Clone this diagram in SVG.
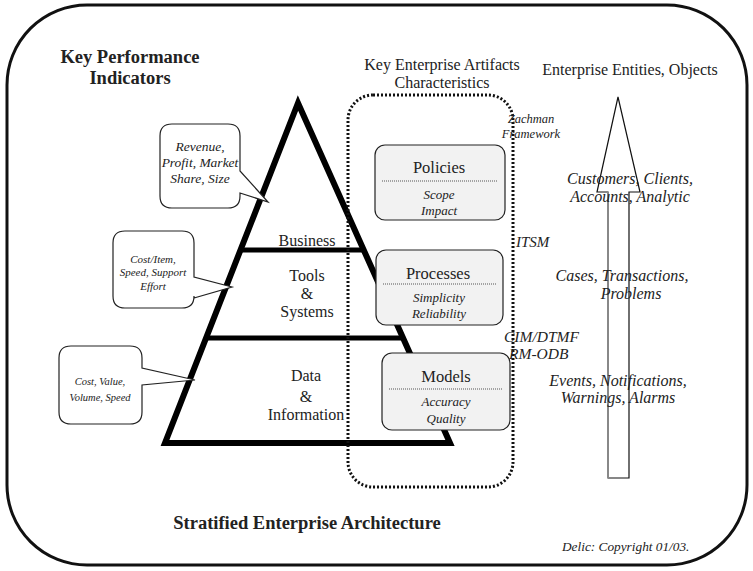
<svg xmlns="http://www.w3.org/2000/svg" width="753" height="571" viewBox="0 0 753 571" font-family="'Liberation Serif', 'DejaVu Serif', serif">
<style>
text{font-family:'Liberation Serif','DejaVu Serif',serif;fill:#222}
.c{text-anchor:middle}
.i{font-style:italic}
.b{font-weight:bold}
.callout{fill:#fff;stroke:#222;stroke-width:1.2}
.kbox{fill:#f2f2f2;stroke:#222;stroke-width:1.2}
.dot{stroke:#555;stroke-width:1;stroke-dasharray:1 1}
</style>
<rect id="frame" x="7" y="5" width="740" height="560" rx="80" ry="80" fill="#fff" stroke="#111" stroke-width="3"/>
<g id="pyramid">
<polygon points="298,103 165,443 450,443" fill="none" stroke="#000" stroke-width="6" stroke-linejoin="miter"/>
<line x1="240" y1="250" x2="364" y2="250" stroke="#000" stroke-width="5"/>
<line x1="206" y1="338" x2="403" y2="338" stroke="#000" stroke-width="5"/>
<text class="c" x="307" y="246" font-size="16">Business</text>
<text class="c" x="307" y="281" font-size="16">Tools</text>
<text class="c" x="307" y="299" font-size="16">&amp;</text>
<text class="c" x="307" y="317" font-size="16">Systems</text>
<text class="c" x="306" y="381" font-size="16">Data</text>
<text class="c" x="306" y="402" font-size="16">&amp;</text>
<text class="c" x="306" y="420" font-size="16">Information</text>
</g>
<g id="kpi-title">
<text class="c b" x="130" y="63" font-size="18.5">Key Performance</text>
<text class="c b" x="130" y="84" font-size="18.5">Indicators</text>
</g>
<g id="callout-business">
<path class="callout" d="M172,124 H228 Q240,124 240,136 V171 L268,202 L240,193 V196 Q240,208 228,208 H172 Q160,208 160,196 V136 Q160,124 172,124 Z"/>
<text class="c i" x="200" y="151" font-size="13.5">Revenue,</text>
<text class="c i" x="200" y="167" font-size="13.5">Profit, Market</text>
<text class="c i" x="200" y="183" font-size="13.5">Share, Size</text>
</g>
<g id="callout-tools">
<path class="callout" d="M125,231 H182 Q194,231 194,243 V277 L232,287 L194,298 V296 Q194,308 182,308 H125 Q113,308 113,296 V243 Q113,231 125,231 Z"/>
<text class="c i" x="153" y="263" font-size="11">Cost/Item,</text>
<text class="c i" x="153" y="276" font-size="11">Speed, Support</text>
<text class="c i" x="153" y="290" font-size="11">Effort</text>
</g>
<g id="callout-data">
<path class="callout" d="M71,346 H130 Q142,346 142,358 V368 L195,380 L142,385 V412 Q142,424 130,424 H71 Q59,424 59,412 V358 Q59,346 71,346 Z"/>
<text class="c i" x="100" y="385" font-size="10.5">Cost, Value,</text>
<text class="c i" x="100" y="401" font-size="10.5">Volume, Speed</text>
</g>
<g id="artifacts">
<text class="c" x="442" y="70" font-size="16">Key Enterprise Artifacts</text>
<text class="c" x="442" y="88" font-size="16">Characteristics</text>
<rect x="348" y="95" width="165" height="392" rx="25" ry="25" fill="none" stroke="#111" stroke-width="3" stroke-dasharray="2 2"/>
</g>
<g id="policies">
<rect class="kbox" x="375" y="145" width="130" height="75" rx="10" ry="10"/>
<text class="c" x="439" y="173" font-size="16.5">Policies</text>
<line class="dot" x1="382" y1="181" x2="497" y2="181"/>
<text class="c i" x="439" y="199" font-size="13">Scope</text>
<text class="c i" x="439" y="215" font-size="13">Impact</text>
</g>
<g id="processes">
<rect class="kbox" x="376" y="250" width="127" height="75" rx="10" ry="10"/>
<text class="c" x="438" y="279" font-size="16.5">Processes</text>
<line class="dot" x1="383" y1="284" x2="496" y2="284"/>
<text class="c i" x="439" y="302" font-size="13">Simplicity</text>
<text class="c i" x="439" y="318" font-size="13">Reliability</text>
</g>
<g id="models">
<rect class="kbox" x="382" y="353" width="128" height="77" rx="10" ry="10"/>
<text class="c" x="446" y="382" font-size="16.5">Models</text>
<line class="dot" x1="389" y1="389" x2="503" y2="389"/>
<text class="c i" x="446" y="406" font-size="13">Accuracy</text>
<text class="c i" x="446" y="423" font-size="13">Quality</text>
</g>
<g id="standards">
<text class="c i" x="531" y="123" font-size="12.5">Zachman</text>
<text class="c i" x="531" y="138" font-size="12.5">Framework</text>
<text class="i" x="516" y="247" font-size="15">ITSM</text>
<text class="i" x="504" y="342" font-size="15.5">CIM/DTMF</text>
<text class="i" x="509" y="359" font-size="15.5">RM-ODB</text>
</g>
<g id="entities">
<text class="c" x="630" y="75" font-size="16">Enterprise Entities, Objects</text>
<polygon points="618,97 640,192 629,192 629,478 608,478 608,192 597,192" fill="#fff" stroke="#111" stroke-width="1.2"/>
<line x1="608" y1="192" x2="608" y2="478" stroke="#888" stroke-width="2"/>
<text class="c i" x="630" y="184" font-size="16">Customers, Clients,</text>
<text class="c i" x="630" y="202" font-size="16">Accounts, Analytic</text>
<text class="c i" x="622" y="281" font-size="16">Cases, Transactions,</text>
<text class="c i" x="631" y="299" font-size="16">Problems</text>
<text class="c i" x="618" y="386" font-size="16">Events, Notifications,</text>
<text class="c i" x="618" y="403" font-size="16">Warnings, Alarms</text>
</g>
<g id="footer">
<text class="c b" x="307" y="529" font-size="18.5">Stratified Enterprise Architecture</text>
<text class="i" x="562" y="551" font-size="13.3">Delic: Copyright 01/03.</text>
</g>
<g id="connectors"></g>
</svg>
